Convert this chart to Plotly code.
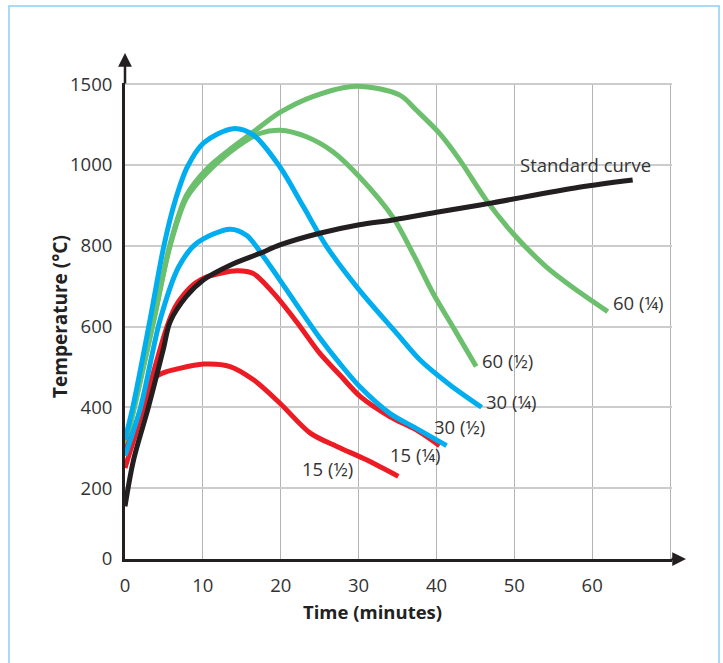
import plotly.graph_objects as go

# ---- data (time in minutes, temperature in chart units; top gridline is labelled "1500") ----
std_t = [0, 1.1, 3.0, 4.9, 5.8, 7.9, 10.1, 13.5, 17.3, 19.9, 25.0, 30.1, 34.4, 40.4, 46.8, 58.3, 65.2]
std_v = [155, 270, 400, 542, 612, 675, 716, 752, 781, 802, 831, 852, 864, 884, 905, 945, 963]

g60q_t = [0, 1.2, 3.7, 5.8, 7.9, 10.5, 13.5, 16.5, 19.9, 24.2, 29.7, 35.3, 37.4, 40.4, 43.0, 46.4, 49.8, 54.1, 58.3, 62.0]
g60q_v = [300, 400, 616, 805, 925, 990, 1039, 1082, 1130, 1170, 1195, 1173, 1136, 1078, 1012, 913, 831, 748, 686, 637]

g60h_t = [0, 1.2, 3.7, 5.8, 7.9, 10.5, 14.4, 17.3, 19.9, 23.3, 26.7, 30.1, 34.4, 37.0, 39.6, 42.3, 45.1]
g60h_v = [300, 400, 616, 800, 918, 980, 1045, 1078, 1086, 1070, 1033, 971, 871, 780, 681, 593, 501]

b30q_t = [0, 1.0, 3.2, 5.0, 6.5, 8.0, 10.1, 13.9, 16.5, 19.9, 22.9, 25.9, 30.1, 34.9, 37.9, 41.7, 45.8]
b30q_v = [320, 400, 615, 800, 915, 995, 1055, 1090, 1074, 995, 897, 798, 690, 583, 517, 456, 400]

b30h_t = [0, 2.0, 4.5, 6.9, 9.2, 13.5, 15.6, 17.8, 19.9, 22.5, 25.0, 27.6, 30.2, 34.0, 37.4, 41.3]
b30h_v = [280, 400, 616, 748, 806, 841, 826, 773, 715, 641, 572, 508, 450, 385, 348, 305]

r15q_t = [0, 2.4, 4.0, 5.4, 6.5, 7.6, 9.0, 10.5, 14.4, 16.5, 19.1, 22.1, 25.0, 27.6, 30.2, 34.0, 37.4, 40.4]
r15q_v = [250, 400, 510, 600, 650, 680, 707, 723, 738, 731, 682, 610, 534, 480, 427, 377, 344, 305]

r15h_t = [0, 2.4, 3.9, 5.0, 6.7, 10.1, 13.5, 16.5, 19.9, 23.8, 27.2, 31.0, 35.1]
r15h_v = [290, 400, 474, 486, 495, 507, 501, 468, 410, 336, 303, 270, 229]

x_ticks = [0, 10, 20, 30, 40, 50, 60, 70]
x_ticktext = ["0", "10", "20", "30", "40", "50", "60", ""]
y_ticks = [24.4, 200, 400, 600, 800, 1000, 1200]
y_ticktext = ["0", "200", "400", "600", "800", "1000", "1500"]

GREEN = "#6cbf6c"
BLUE = "#00aeef"
RED = "#ed1c24"
BLACK = "#231f20"
TXT = "#333333"
FONT = "Open Sans"

# (name, t, v, colour, label anchor, label xshift, label yshift)
series = [
    ("60 (¼)", g60q_t, g60q_v, GREEN, "left", 3, 9),
    ("60 (½)", g60h_t, g60h_v, GREEN, "left", 4, 6),
    ("15 (½)", r15h_t, r15h_v, RED, "right", -43, 8),
    ("15 (¼)", r15q_t, r15q_v, RED, "right", 3, -9),
    ("30 (½)", b30h_t, b30h_v, BLUE, "center", 13, 19),
    ("30 (¼)", b30q_t, b30q_v, BLUE, "left", 2, 6),
    ("Standard curve", std_t, std_v, BLACK, "right", 20, 15),
]

fig = go.Figure()
annotations = []
for name, t, v, col, anc, xs, ys in series:
    fig.add_trace(go.Scatter(
        x=t, y=v, mode="lines", name=name,
        line=dict(color=col, width=5, shape="spline", smoothing=0.9),
        hoverinfo="skip", showlegend=False,
    ))
    annotations.append(dict(
        x=t[-1], y=v[-1], xref="x", yref="y", text=name, showarrow=False,
        xanchor=anc, yanchor="middle", xshift=xs, yshift=ys,
        font=dict(family=FONT, size=18.5, color=TXT),
    ))

# axis arrowheads
annotations.append(dict(x=0, y=1.063, xref="paper", yref="paper", ax=0, ay=32,
                        axref="pixel", ayref="pixel", text="", showarrow=True,
                        arrowhead=2, arrowsize=1.1, arrowwidth=2.5, arrowcolor=BLACK, standoff=0))
annotations.append(dict(x=1.0256, y=0, xref="paper", yref="paper", ax=-16, ay=0,
                        axref="pixel", ayref="pixel", text="", showarrow=True,
                        arrowhead=2, arrowsize=1.1, arrowwidth=2.5, arrowcolor=BLACK, standoff=0))

# axis titles
annotations.append(dict(x=(372.5 - 125) / 547, y=(559 - 611) / 476, xref="paper", yref="paper",
                        text="<b>Time (minutes)</b>", showarrow=False,
                        font=dict(family=FONT, size=18.5, color="#222222"),
                        xanchor="center", yanchor="middle"))
annotations.append(dict(x=(60 - 125) / 547, y=(559 - 317) / 476, xref="paper", yref="paper",
                        text="<b>Temperature (°C)</b>", showarrow=False, textangle=-90,
                        font=dict(family=FONT, size=19, color="#222222"),
                        xanchor="center", yanchor="middle"))

fig.update_layout(
    width=723, height=663,
    margin=dict(l=125, r=51, t=83, b=104),
    paper_bgcolor="white", plot_bgcolor="white",
    annotations=annotations,
    shapes=[dict(type="rect", xref="paper", yref="paper",
                 x0=(9 - 125) / 547, x1=(719 - 125) / 547,
                 y0=(559 - 690) / 476, y1=(559 - 6) / 476,
                 line=dict(color="#8fcdf0", width=1.5), layer="below")],
    xaxis=dict(range=[0, 70.25], tickvals=x_ticks, ticktext=x_ticktext,
               showgrid=True, gridcolor="#b4b4b4", gridwidth=1,
               showline=True, linecolor=BLACK, linewidth=3, zeroline=False,
               ticks="", ticklabelstandoff=8, automargin=False,
               tickfont=dict(family=FONT, size=18.5, color=TXT)),
    yaxis=dict(range=[24.4, 1203], tickvals=y_ticks, ticktext=y_ticktext,
               showgrid=True, gridcolor="#cccccc", gridwidth=2,
               showline=True, linecolor=BLACK, linewidth=3, zeroline=False,
               ticks="", ticklabelstandoff=6, automargin=False,
               tickfont=dict(family=FONT, size=18.5, color=TXT)),
)

fig.write_html("out.html", config={"displayModeBar": False},
               post_script="document.body.style.margin='0';document.body.style.padding='0';")
